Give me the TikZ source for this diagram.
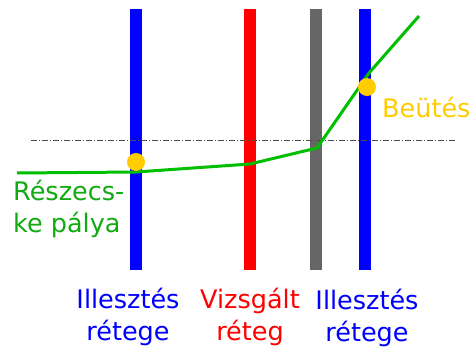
\documentclass[tikz,border=0pt]{standalone}
\usepackage{fontspec}
\setmainfont{DejaVu Sans}
\usetikzlibrary{positioning}
\definecolor{trackgreen}{RGB}{0,190,0}
\definecolor{tracktext}{RGB}{17,170,17}
\definecolor{hitgold}{RGB}{255,204,0}
\definecolor{bargray}{RGB}{102,102,102}
\tikzset{
  layer/.style={line width=12pt},
  refline/.style={draw=black!70, line width=0.7pt, dash pattern=on 6pt off 2pt on 1pt off 2pt},
  track/.style={draw=trackgreen, line width=3pt, line join=round},
  hit/.style={circle, fill=hitgold, inner sep=0pt, minimum size=18pt},
  lbl/.style={align=center, font=\fontsize{25.5}{32}\selectfont, inner sep=0pt},
}
\begin{document}
\begin{tikzpicture}[x=1pt,y=-1pt]
  \useasboundingbox (0,0) rectangle (473,348);
  % detector layers
  \foreach \n/\x/\c in {a/136/blue,b/250/red,c/316/bargray,d/365/blue}{
    \coordinate (\n top) at (\x,9);
    \coordinate (\n bot) at (\x,270);
    \draw[layer, draw=\c] (\n top) -- (\n bot);
  }
  \coordinate (ref l) at (31,140);
  \coordinate (ref r) at (457,140);
  \draw[refline] (ref l) -- (ref r);
  % track
  \coordinate (t0) at (17,173);
  \coordinate (t1) at (136,172);
  \coordinate (t2) at (250,164);
  \coordinate (t3) at (317,148);
  \coordinate (t4) at (369,73);
  \coordinate (t5) at (419,16);
  \draw[track] (t0) -- (t1) -- (t2) -- (t3) -- (t4) -- (t5);
  \node[hit] (h1) at (136,162) {};
  \node[hit] (h2) at (367,87) {};
  % labels (base = last line)
  \node[lbl, align=left, text=tracktext, anchor=base west] (trk) at (13,232) {Részecs-\\ke pálya};
  \node[lbl, text=hitgold, anchor=base west] (hitlbl) at (382,117) {Beütés};
  \node[lbl, text=blue, anchor=base] (fit1) at (128,340) {Illesztés\\rétege};
  \node[lbl, text=red, anchor=base] (dut) at (250,340) {Vizsgált\\réteg};
  \node[lbl, text=blue, anchor=base] (fit2) at (367,341) {Illesztés\\rétege};
\end{tikzpicture}
\end{document}
